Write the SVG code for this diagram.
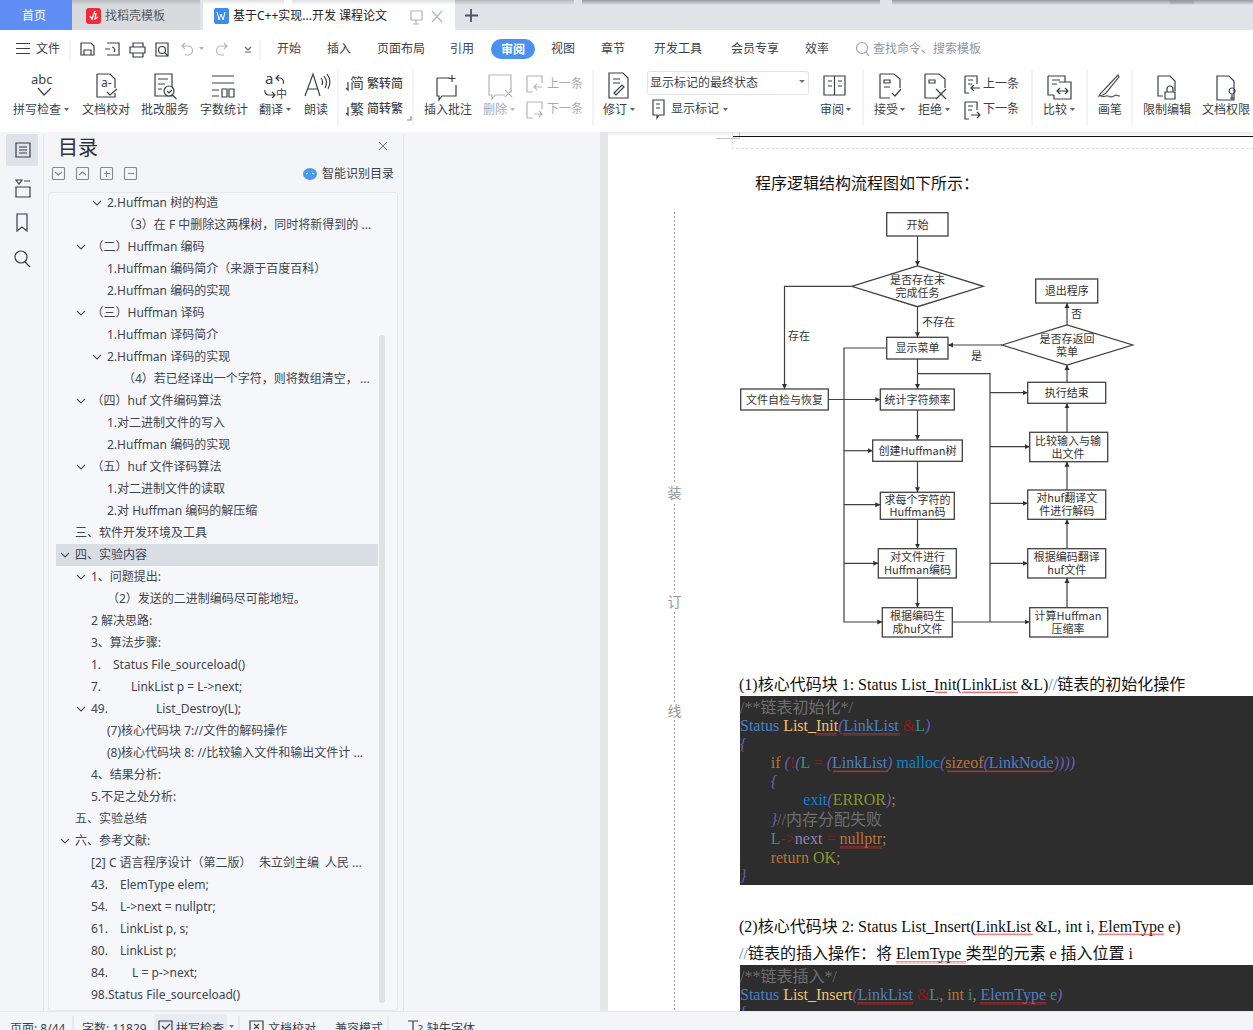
<svg xmlns="http://www.w3.org/2000/svg" width="1253" height="1030" viewBox="0 0 1253 1030">
<style>
text{font-family:"Noto Sans","Noto Sans CJK SC",sans-serif;font-size:12px;fill:#3a3f4b}
.g{fill:#a6abb3}
.ic{fill:none;stroke:#3a3f4b;stroke-width:1.2}
.icg{fill:none;stroke:#b0b4bb;stroke-width:1.2}
.sep{stroke:#e6e8ec;stroke-width:1}
.toc{fill:#3f4450}
.ch{fill:none;stroke:#4a4f5a;stroke-width:1.1}
.nd rect,.nd polygon{fill:#fff;stroke:#404040;stroke-width:1.3}
.nd text,.lb{font-family:"Noto Sans CJK SC","Noto Sans",sans-serif;font-size:11px;fill:#333;text-anchor:middle}
.lb{text-anchor:start}
.cn{fill:none;stroke:#404040;stroke-width:1.2}
.d{font-family:"Liberation Serif","Noto Sans CJK SC",serif;font-size:16px;fill:#111}
.c{font-family:"Liberation Serif","Noto Sans CJK SC",serif;font-size:16px}
.bl{fill:#4d7fc4}.ye{fill:#edc36f}.pu{fill:#6a5fb5;font-style:italic}.re{fill:#8f1a1a}.te{fill:#3f8f86}.cm{fill:#6e6e6e}.or{fill:#b8743a}.sk{fill:#0b84cf}.ol{fill:#8b9530}.li{fill:#9480ad}
.side{font-family:"Noto Sans CJK SC",sans-serif;font-size:14px;fill:#999;text-anchor:middle}
</style>
<defs>
<marker id="ar" markerUnits="userSpaceOnUse" markerWidth="6" markerHeight="6" refX="5" refY="3" orient="auto"><path d="M0 .5L5 3L0 5.500z" fill="#303030"/></marker>
<pattern id="sq" width="4" height="2.400" patternUnits="userSpaceOnUse"><path d="M0 2L1 .5L2 2L3 .5L4 2" fill="none" stroke="#e03030" stroke-width=".7"/></pattern>
<path id="chev" d="M-4 -2L0 2L4 -2" class="ch"/>
<linearGradient id="tg" x1="0" y1="0" x2="0" y2="1"><stop offset="0" stop-color="#96989c"/><stop offset="1" stop-color="#96989c" stop-opacity="0"/></linearGradient>
<linearGradient id="sh" x1="0" y1="0" x2="0" y2="1"><stop offset="0" stop-color="#e8e9eb"/><stop offset="1" stop-color="#fff"/></linearGradient>
</defs>

<rect width="1253" height="1030" fill="#f4f5f8"/>

<g id="tabbar">
<rect width="1253" height="30" fill="#e1e3e8"/>
<rect x="0" width="72" height="30" fill="#5f8ff5"/>
<text x="22" y="20" style="fill:#fff">首页</text>
<rect x="72" width="128" height="30" fill="#d8dade"/>
<rect x="86" y="8" width="15" height="16" rx="3" fill="#ee2b3a"/><path d="M95 11l-3 8l-2-3M96 13l-1 6l3-2" fill="none" stroke="#fff" stroke-width="1.300"/>
<text x="105" y="20" style="fill:#55595f">找稻壳模板</text>
<rect x="203" width="252" height="30" fill="#fff"/>
<rect x="214" y="8" width="15" height="16" rx="2" fill="#3f8dea"/><path d="M217 12l2 8l2-6l2 6l2-8" fill="none" stroke="#fff" stroke-width="1"/>
<text x="233" y="20" style="fill:#222">基于C++实现...开发 课程论文</text>
<path class="icg" d="M411 11h11v9h-11zM416 20v4M413 24h6"/>
<path class="icg" d="M432 11l10 11M442 11l-10 11"/>
<path d="M471 9v13M465 15.500h13" fill="none" stroke="#4a5160" stroke-width="1.800"/>
<rect x="72" width="128" height="5" fill="url(#tg)" opacity=".5"/>
<rect x="203" width="81" height="5" fill="url(#tg)" opacity=".3"/>
<rect x="292" width="163" height="5" fill="url(#tg)" opacity=".3"/>
<rect x="455" width="119" height="5" fill="url(#tg)" opacity=".6"/>
<rect x="582" width="298" height="5" fill="url(#tg)"/>
<rect x="892" width="361" height="5" fill="url(#tg)"/>
<rect x="1170" width="24" height="5" fill="url(#tg)"/>
</g>

<g id="ribbon">
<rect y="30" width="1253" height="102" fill="#fff"/>
<path class="ic" d="M16 43.500h14M16 48.500h14M16 53.500h14"/>
<text x="36" y="53">文件</text>
<line class="sep" x1="70" y1="40" x2="70" y2="60"/><line class="sep" x1="260" y1="40" x2="260" y2="60"/>
<path class="ic" d="M81 43h10l3 3v9h-13zM84 55v-5h7v5"/>
<path class="ic" d="M107 43h12v12h-12M105 49h5M112 47a3 3 0 0 1 2 5"/>
<path class="ic" d="M133 47v-4h10v4M130 47h15v6h-15zM133 53h10v4h-10z"/>
<path class="ic" d="M156 43h12v13h-12z"/><circle class="ic" cx="162" cy="50" r="3.500"/><path class="ic" d="M165 53l3 3"/>
<path class="icg" d="M185 43l-3 3l3 3M182 46h6a4 4 0 0 1 0 9h-3"/><path class="icg" d="M224 43l3 3l-3 3M227 46h-6a4 4 0 0 0 0 9h3"/>
<path d="M199 47h5l-2.500 3z" fill="#b0b4bb"/>
<path class="ic" d="M245 47l3 3l3-3M245 52h6" style="stroke:#666"/>
<text x="277" y="53">开始</text><text x="327" y="53">插入</text><text x="377" y="53">页面布局</text><text x="450" y="53">引用</text>
<rect x="491" y="39" width="44" height="20" rx="10" fill="#4a90f0"/><text x="501" y="54" style="fill:#fff;font-weight:700">审阅</text>
<text x="551" y="53">视图</text><text x="601" y="53">章节</text><text x="654" y="53">开发工具</text><text x="731" y="53">会员专享</text><text x="805" y="53">效率</text>
<circle cx="862" cy="48" r="5.500" fill="none" stroke="#a0a6b0" stroke-width="1.200"/><path d="M866 52l3 4" stroke="#a0a6b0" stroke-width="1.200"/>
<text x="873" y="53" style="fill:#8f96a3">查找命令、搜索模板</text>

<text x="31" y="84" style="font-size:13px">abc</text>
<path class="ic" d="M38 88l6 7l7-7"/>
<text x="13" y="114">拼写检查</text><path d="M64 108h5l-2.500 3z" fill="#666"/>
<path class="ic" d="M97 74h13l5 5v9M115 93v4h-18v-23"/><text x="101" y="87" style="font-size:12px">a-</text><path class="ic" d="M107 92l3 3l7-6"/>
<text x="82" y="114">文档校对</text>
<path class="ic" d="M155 74h17v22h-17zM158 79h10M158 84h7M158 89h4"/><circle cx="169" cy="91" r="5" fill="#fff" stroke="#3a3f4b" stroke-width="1.200"/><path class="ic" d="M172.500 95l4 4M167 91l2 2l3-3"/>
<text x="141" y="114">批改服务</text>
<path class="ic" d="M212 76h22M212 83h22M212 90h7M212 96h7M222 89h5v8h-5zM229 89h5v8h-5z"/>
<text x="200" y="114">字数统计</text>
<text x="265" y="84" style="font-size:15px">a</text><path class="ic" d="M279 75l-3 3l3 3M276 78h4a4 4 0 0 1 3 6M265 90a4 4 0 0 0 3 5h6M272 92l3 3l-3 3"/><text x="276" y="98" style="font-size:11px">中</text>
<text x="259" y="114">翻译</text><path d="M286 108h5l-2.500 3z" fill="#666"/>
<path class="ic" d="M305 96l8-22l7 22M308 89h10M321 78a7 7 0 0 1 1 7M324 76a11 11 0 0 1 1 12M327 74a14 14 0 0 1 1 15"/>
<text x="304" y="114">朗读</text>
<line class="sep" x1="338" y1="70" x2="338" y2="126"/>
<text x="350" y="88" style="font-size:14px">简</text><path class="ic" d="M348 82v8l-2-2M348 90l0 0"/><text x="367" y="88" style="font-weight:500">繁转简</text>
<text x="350" y="114" style="font-size:14px">繁</text><path class="ic" d="M348 107v8l-2-2"/><text x="367" y="113" style="font-weight:500">简转繁</text>
<path class="ic" d="M407 120h4v-4" style="stroke:#888"/>
<line class="sep" x1="413" y1="70" x2="413" y2="126"/>
<path class="ic" d="M437 78h13M456 85v11h-14l-3 4v-4h-2v-18M452 75v7M448.500 78.500h7"/>
<text x="424" y="114">插入批注</text>
<path class="icg" d="M489 75h22v17h-2M505 95h-10l-3 4v-4h-3v-20M505 90l7 7M512 90l-7 7"/>
<text x="483" y="114" class="g">删除</text><path d="M510 108h5l-2.500 3z" fill="#b0b4bb"/>
<path class="icg" d="M527 76h15v7M527 76v16h6M542 87h-8M537 84l-3 3l3 3"/><text x="547" y="88" class="g">上一条</text>
<path class="icg" d="M527 102h15v7M527 102v16h6M534 114h8M539 111l3 3l-3 3"/><text x="547" y="113" class="g">下一条</text>
<line class="sep" x1="593" y1="70" x2="593" y2="126"/>
<path class="ic" d="M609 73h14l5 5v20h-19zM613 79h7M613 83h7M614 93l8-8l2 2l-8 8z"/>
<text x="603" y="114">修订</text><path d="M630 108h5l-2.500 3z" fill="#666"/>
<rect x="647.500" y="71.500" width="161" height="23" rx="2" fill="#fff" stroke="#e2e4e8"/>
<text x="650" y="87">显示标记的最终状态</text><path d="M799 80h6l-3 3z" fill="#777"/>
<path class="ic" d="M653 100h11v15h-5l-2 3v-3h-4zM656 104h4M656 108h4"/><text x="671" y="113">显示标记</text><path d="M723 108h5l-2.500 3z" fill="#666"/>
<path class="ic" d="M824 76h21v19h-21zM834.500 76v19M828 81h4M828 86h4M838 81h4M838 86h4"/>
<text x="820" y="114">审阅</text><path d="M846 108h5l-2.500 3z" fill="#666"/>
<line class="sep" x1="863" y1="70" x2="863" y2="126"/>
<path class="ic" d="M880 74h14l6 5v9M880 74v24h10M884 80h6v3h-6zM884 87h6M892 93l3 3l6-7"/>
<text x="874" y="114">接受</text><path d="M900 108h5l-2.500 3z" fill="#666"/>
<path class="ic" d="M925 74h14l6 5v9M925 74v24h12M929 80h6v3h-6zM936 89l10 10M946 89l-10 10"/>
<text x="918" y="114">拒绝</text><path d="M945 108h5l-2.500 3z" fill="#666"/>
<path class="ic" d="M965 76h12v8M965 76v17h4M968 80h5M968 84h4M980 88h-9M974 85l-3 3l3 3"/><text x="983" y="88">上一条</text>
<path class="ic" d="M965 102h12v8M965 102v17h4M968 106h5M968 110h4M971 115h9M977 112l3 3l-3 3"/><text x="983" y="113">下一条</text>
<line class="sep" x1="1032" y1="70" x2="1032" y2="126"/>
<path class="ic" d="M1048 76h17v6M1048 76v19h6M1059 82h12v17h-17v-4M1052 80h8M1052 84h5M1057 91h11M1060 88l-3 3l3 3M1065 88l3 3l-3 3"/>
<text x="1043" y="114">比较</text><path d="M1070 108h5l-2.500 3z" fill="#666"/>
<line class="sep" x1="1087" y1="70" x2="1087" y2="126"/>
<path class="ic" d="M1118 75l-14 15l-3 3l-2 3l4-1l3-2l13-16zM1101 96c4 2 4-1 7 0s3 2 6 0s3 0 6 0" style="stroke:#555"/>
<text x="1098" y="114">画笔</text>
<line class="sep" x1="1132" y1="70" x2="1132" y2="126"/>
<path class="ic" d="M1158 76h12l5 5v10M1158 76v20h5M1165 92h10v7h-10zM1167 92v-3a3 3 0 0 1 6 0v3"/>
<text x="1143" y="114">限制编辑</text>
<path class="ic" d="M1217 76h12l5 5v19h-17zM1232 88a3 3 0 1 0 .1 0M1232 94v6M1230 98h4"/>
<text x="1202" y="114">文档权限</text>
</g>

<g id="sidebar">
<rect x="43" y="135" width="1" height="876" fill="#e3e5e9"/>
<rect x="6" y="134" width="32" height="32" rx="2" fill="#dfe2e8"/>
<path class="ic" d="M16 143h14v14h-14zM19 147h8M19 150h8M19 153h8"/>
<path class="ic" d="M16 180h6l-3 4zM24 181h6M16 187h14v10h-14z"/>
<path class="ic" d="M17 214h10v17l-5-4l-5 4z"/>
<circle class="ic" cx="21" cy="257" r="6"/><path class="ic" d="M25 262l5 5"/>
</g>

<g id="toc">
<rect x="403" y="135" width="1" height="876" fill="#e3e5e9"/>
<text x="58" y="155" style="font-size:20px;fill:#2c3038">目录</text>
<path d="M379 142l8 8M387 142l-8 8" stroke="#777" fill="none"/>
<g class="ch" style="stroke:#888"><rect x="52.500" y="167.500" width="12" height="12" rx="1"/><path d="M55 172l3.500 3l3.500-3"/><rect x="76.500" y="167.500" width="12" height="12" rx="1"/><path d="M79 175l3.500-3l3.500 3"/><rect x="100.500" y="167.500" width="12" height="12" rx="1"/><path d="M104 173.500h6M106.500 171v6"/><rect x="124.500" y="167.500" width="12" height="12" rx="1"/><path d="M128 173.500h6"/></g>
<ellipse cx="310" cy="174" rx="7" ry="6" fill="#4a9bf0"/><path d="M306 174l2-1M314 174l-2-1" stroke="#fff"/>
<text x="322" y="178">智能识别目录</text>
<rect x="48.500" y="192.500" width="349" height="818" rx="3" fill="#f6f7fa" stroke="#e6e8ec"/>
<rect x="56" y="544" width="322" height="22" fill="#d9dde4"/>
<rect x="379" y="335" width="6" height="668" rx="3" fill="#dfe1e5"/>
<use href="#chev" x="97" y="203"/><use href="#chev" x="81" y="247"/><use href="#chev" x="81" y="313"/><use href="#chev" x="97" y="357"/><use href="#chev" x="81" y="401"/><use href="#chev" x="81" y="467"/><use href="#chev" x="65" y="555"/><use href="#chev" x="81" y="577"/><use href="#chev" x="81" y="709"/><use href="#chev" x="65" y="841"/>
<g class="toc">
<text class="toc" x="107" y="207">2.Huffman 树的构造</text>
<text class="toc" x="123" y="229">（3）在 F 中删除这两棵树，同时将新得到的 ...</text>
<text class="toc" x="91.500" y="251">（二）Huffman 编码</text>
<text class="toc" x="107" y="273">1.Huffman 编码简介（来源于百度百科）</text>
<text class="toc" x="107" y="295">2.Huffman 编码的实现</text>
<text class="toc" x="91.500" y="317">（三）Huffman 译码</text>
<text class="toc" x="107" y="339">1.Huffman 译码简介</text>
<text class="toc" x="107" y="361">2.Huffman 译码的实现</text>
<text class="toc" x="123" y="383">（4）若已经译出一个字符，则将数组清空，</text><text class="toc" x="360" y="383">...</text>
<text class="toc" x="91.500" y="405">（四）huf 文件编码算法</text>
<text class="toc" x="107" y="427">1.对二进制文件的写入</text>
<text class="toc" x="107" y="449">2.Huffman 编码的实现</text>
<text class="toc" x="91.500" y="471">（五）huf 文件译码算法</text>
<text class="toc" x="107" y="493">1.对二进制文件的读取</text>
<text class="toc" x="107" y="515">2.对 Huffman 编码的解压缩</text>
<text class="toc" x="75" y="537">三、软件开发环境及工具</text>
<text class="toc" x="75" y="559">四、实验内容</text>
<text class="toc" x="91" y="581">1、问题提出:</text>
<text class="toc" x="107" y="603">（2）发送的二进制编码尽可能地短。</text>
<text class="toc" x="91" y="625">2 解决思路:</text>
<text class="toc" x="91" y="647">3、算法步骤:</text>
<text class="toc" x="91" y="669">1.</text><text class="toc" x="113" y="669">Status File_sourceload()</text>
<text class="toc" x="91" y="691">7.</text><text class="toc" x="131" y="691">LinkList p = L-&gt;next;</text>
<text class="toc" x="91" y="713">49.</text><text class="toc" x="156" y="713">List_Destroy(L);</text>
<text class="toc" x="107" y="735">(7)核心代码块 7://文件的解码操作</text>
<text class="toc" x="107" y="757">(8)核心代码块 8: //比较输入文件和输出文件计 ...</text>
<text class="toc" x="91" y="779">4、结果分析:</text>
<text class="toc" x="91" y="801">5.不足之处分析:</text>
<text class="toc" x="75" y="823">五、实验总结</text>
<text class="toc" x="75" y="845">六、参考文献:</text>
<text class="toc" x="91" y="867">[2] C 语言程序设计（第二版）</text><text class="toc" x="259" y="867">朱立剑主编</text><text class="toc" x="325" y="867">人民 ...</text>
<text class="toc" x="91" y="889">43.</text><text class="toc" x="120" y="889">ElemType elem;</text>
<text class="toc" x="91" y="911">54.</text><text class="toc" x="120" y="911">L-&gt;next = nullptr;</text>
<text class="toc" x="91" y="933">61.</text><text class="toc" x="120" y="933">LinkList p, s;</text>
<text class="toc" x="91" y="955">80.</text><text class="toc" x="120" y="955">LinkList p;</text>
<text class="toc" x="91" y="977">84.</text><text class="toc" x="132" y="977">L = p-&gt;next;</text>
<text class="toc" x="91" y="999">98.Status File_sourceload()</text>
</g>
</g>

<g id="page">
<rect x="600" y="132" width="8" height="879" fill="#e5e6e8"/>
<rect x="608" y="132" width="645" height="879" fill="#fff"/>
<rect x="608" y="132" width="645" height="4" fill="url(#sh)"/>
<path d="M732.500 132v16.500H1253" fill="none" stroke="#ddd" stroke-dasharray="3 2"/>
<path d="M716 138.500h23.500V132" fill="none" stroke="#c4c4c4"/>
<path d="M733 136.500h520" stroke="#111" stroke-width="1"/>
<line x1="674.500" y1="212" x2="674.500" y2="1011" stroke="#999" stroke-dasharray="2 2"/>
<rect x="666" y="484" width="17" height="18" fill="#fff"/><rect x="666" y="593" width="17" height="18" fill="#fff"/><rect x="666" y="702" width="17" height="18" fill="#fff"/>
<text class="side" x="674.500" y="498">装</text><text class="side" x="674.500" y="607">订</text><text class="side" x="674.500" y="716">线</text>
<text class="d" x="755" y="188.500">程序逻辑结构流程图如下所示：</text>
</g>

<g id="connectors">
<path class="cn" marker-end="url(#ar)" d="M917.500 236V266"/>
<path class="cn" marker-end="url(#ar)" d="M917.500 306.700V337.300"/>
<path class="cn" marker-end="url(#ar)" d="M851.700 286.300H784.500V389"/>
<path class="cn" marker-end="url(#ar)" d="M828.300 399.500H880.300"/>
<path class="cn" marker-end="url(#ar)" d="M917.500 359V389"/>
<path class="cn" marker-end="url(#ar)" d="M917.500 410V440"/>
<path class="cn" marker-end="url(#ar)" d="M917.500 461.300V492.300"/>
<path class="cn" marker-end="url(#ar)" d="M917.500 519.300V548.700"/>
<path class="cn" marker-end="url(#ar)" d="M917.500 578V607.700"/>
<path class="cn" marker-end="url(#ar)" d="M886.700 348H844V622H882.300"/>
<path class="cn" marker-end="url(#ar)" d="M844 450.700H872.700"/>
<path class="cn" marker-end="url(#ar)" d="M844 504.700H880.300"/>
<path class="cn" marker-end="url(#ar)" d="M844 563.300H878.300"/>
<path class="cn" d="M917.500 373.700H990V622"/>
<path class="cn" marker-end="url(#ar)" d="M990 392.700H1027.700"/>
<path class="cn" marker-end="url(#ar)" d="M990 446.700H1029.700"/>
<path class="cn" marker-end="url(#ar)" d="M990 503.300H1027.700"/>
<path class="cn" marker-end="url(#ar)" d="M990 563.300H1027.700"/>
<path class="cn" marker-end="url(#ar)" d="M952.300 622H1029.700"/>
<path class="cn" marker-end="url(#ar)" d="M1067 607.700V578"/>
<path class="cn" marker-end="url(#ar)" d="M1067 548.700V519.300"/>
<path class="cn" marker-end="url(#ar)" d="M1067 490V461.700"/>
<path class="cn" marker-end="url(#ar)" d="M1067 432.300V403.300"/>
<path class="cn" marker-end="url(#ar)" d="M1067 382.300V365"/>
<path class="cn" marker-end="url(#ar)" d="M1067 325V303"/>
<path class="cn" marker-end="url(#ar)" d="M1002 345H948"/>
<text class="lb" x="788" y="340">存在</text>
<text class="lb" x="922" y="326">不存在</text>
<text class="lb" x="971" y="360">是</text>
<text class="lb" x="1071" y="318">否</text>
</g>

<g id="n-start" class="nd"><rect x="886.700" y="212.700" width="61.300" height="23.300"/><text x="917.500" y="228.500">开始</text></g>
<g id="n-task" class="nd"><polygon points="851.700,286.300 917.500,266 983.300,286.300 917.500,306.700"/><text x="917.500" y="284">是否存在未<tspan x="917.500" dy="13">完成任务</tspan></text></g>
<g id="n-exit" class="nd"><rect x="1035.700" y="279" width="62" height="24"/><text x="1066.700" y="295">退出程序</text></g>
<g id="n-back" class="nd"><polygon points="1002,345 1067,325 1132.700,345 1067,365"/><text x="1067" y="343">是否存返回<tspan x="1067" dy="13">菜单</tspan></text></g>
<g id="n-menu" class="nd"><rect x="886.700" y="337.300" width="61.300" height="21.700"/><text x="917.500" y="352">显示菜单</text></g>
<g id="n-check" class="nd"><rect x="740.700" y="389" width="87.600" height="21"/><text x="784.500" y="403.500">文件自检与恢复</text></g>
<g id="n-count" class="nd"><rect x="880.300" y="389" width="74" height="21"/><text x="917.500" y="403.500">统计字符频率</text></g>
<g id="n-done" class="nd"><rect x="1027.700" y="382.300" width="78" height="21"/><text x="1066.700" y="397">执行结束</text></g>
<g id="n-tree" class="nd"><rect x="872.700" y="440" width="89.600" height="21.300"/><text x="917.500" y="454.500">创建Huffman树</text></g>
<g id="n-code" class="nd"><rect x="880.300" y="492.300" width="74" height="27"/><text x="917.500" y="503.500">求每个字符的<tspan x="917.500" dy="12.500">Huffman码</tspan></text></g>
<g id="n-encode" class="nd"><rect x="878.300" y="548.700" width="78" height="29.300"/><text x="917.500" y="561">对文件进行<tspan x="917.500" dy="13">Huffman编码</tspan></text></g>
<g id="n-gen" class="nd"><rect x="882.300" y="607.700" width="70" height="29.300"/><text x="917.500" y="620">根据编码生<tspan x="917.500" dy="13">成huf文件</tspan></text></g>
<g id="n-cmp" class="nd"><rect x="1029.700" y="432.300" width="78" height="29.400"/><text x="1068" y="444.500">比较输入与输<tspan x="1068" dy="13.500">出文件</tspan></text></g>
<g id="n-dec" class="nd"><rect x="1027.700" y="490" width="78" height="29.300"/><text x="1066.700" y="502">对huf翻译文<tspan x="1066.700" dy="13">件进行解码</tspan></text></g>
<g id="n-tran" class="nd"><rect x="1027.700" y="548.700" width="78" height="29.300"/><text x="1066.700" y="561">根据编码翻译<tspan x="1066.700" dy="13">huf文件</tspan></text></g>
<g id="n-rate" class="nd"><rect x="1029.700" y="607.700" width="78" height="29.300"/><text x="1068" y="620">计算Huffman<tspan x="1068" dy="13">压缩率</tspan></text></g>

<g id="code1">
<text class="d" x="739" y="690">(1)核心代码块 1: Status List_Init(LinkList &amp;L)<tspan fill="#4d7fc4">//</tspan>链表的初始化操作</text>
<rect x="935" y="691" width="12" height="2.400" fill="url(#sq)"/><rect x="962" y="691" width="56" height="2.400" fill="url(#sq)"/>
<rect x="740" y="696" width="513" height="189" fill="#2d2d2d"/>
<text class="c cm" x="740" y="713">/**链表初始化*/</text>
<text class="c" x="740" y="731"><tspan class="bl">Status </tspan><tspan class="ye">List_Init</tspan><tspan class="pu">(</tspan><tspan class="bl">LinkList </tspan><tspan class="re">&amp;</tspan><tspan class="te">L</tspan><tspan class="pu">)</tspan></text>
<rect x="815" y="733" width="22" height="2.400" fill="url(#sq)"/><rect x="843" y="733" width="57" height="2.400" fill="url(#sq)"/>
<text class="c pu" x="740" y="750">{</text>
<text class="c" x="770.700" y="768"><tspan class="or">if </tspan><tspan class="pu">(</tspan><tspan class="re">!</tspan><tspan class="pu">(</tspan><tspan class="te">L </tspan><tspan class="re">= </tspan><tspan class="pu">(</tspan><tspan class="bl">LinkList</tspan><tspan class="pu">) </tspan><tspan class="sk">malloc</tspan><tspan class="pu">(</tspan><tspan class="or">sizeof</tspan><tspan class="pu">(</tspan><tspan class="bl">LinkNode</tspan><tspan class="pu">))))</tspan></text>
<rect x="833" y="770" width="55" height="2.400" fill="url(#sq)"/><rect x="947" y="770" width="106" height="2.400" fill="url(#sq)"/>
<text class="c pu" x="770.700" y="787">{</text>
<text class="c" x="803.300" y="805"><tspan class="sk">exit</tspan><tspan class="pu">(</tspan><tspan class="ol">ERROR</tspan><tspan class="pu">)</tspan><tspan class="or">;</tspan></text>
<text class="c" x="770.700" y="825"><tspan class="pu">}</tspan><tspan class="cm">//内存分配失败</tspan></text>
<text class="c" x="770.700" y="844"><tspan class="te">L</tspan><tspan class="re">-&gt;</tspan><tspan class="li">next </tspan><tspan class="re">= </tspan><tspan class="or">nullptr</tspan><tspan class="or">;</tspan></text>
<rect x="840" y="846" width="42" height="2.400" fill="url(#sq)"/>
<text class="c" x="770.700" y="863"><tspan class="or">return </tspan><tspan class="ol">OK</tspan><tspan class="or">;</tspan></text>
<text class="c pu" x="740" y="881">}</text>
</g>

<g id="code2">
<text class="d" x="739" y="932">(2)核心代码块 2: Status List_Insert(LinkList &amp;L, int i, ElemType e)</text>
<rect x="973" y="933" width="60" height="2.400" fill="url(#sq)"/><rect x="1098" y="933" width="66" height="2.400" fill="url(#sq)"/>
<text class="d" x="739" y="959"><tspan fill="#4d7fc4">//</tspan>链表的插入操作：将 ElemType 类型的元素 e 插入位置 i</text>
<rect x="896" y="961" width="70" height="2.400" fill="url(#sq)"/>
<rect x="740" y="965" width="513" height="46" fill="#2d2d2d"/>
<text class="c cm" x="740" y="982">/**链表插入*/</text>
<text class="c" x="740" y="1000"><tspan class="bl">Status </tspan><tspan class="ye">List_Insert</tspan><tspan class="pu">(</tspan><tspan class="bl">LinkList </tspan><tspan class="re">&amp;</tspan><tspan class="te">L</tspan><tspan class="or">, int </tspan><tspan class="te">i</tspan><tspan class="or">, </tspan><tspan class="bl">ElemType </tspan><tspan class="te">e</tspan><tspan class="pu">)</tspan></text>
<rect x="857" y="1002" width="56" height="2.400" fill="url(#sq)"/><rect x="980" y="1002" width="66" height="2.400" fill="url(#sq)"/>
<text class="c pu" x="740" y="1018">{</text>
</g>

<g id="statusbar">
<rect y="1011" width="1253" height="19" fill="#f4f5f8"/>
<rect y="1011" width="1253" height="1" fill="#e6e8ec"/>
<rect x="154" y="1014" width="73" height="16" fill="#e8ebf1"/>
<path class="sep" d="M73 1016v14M239 1016v14M388 1016v14" style="stroke:#d8dade"/>
<text x="10" y="1033">页面: 8/44</text><text x="82" y="1033">字数: 11829</text>
<path class="ic" d="M159 1021h13v12h-13zM162 1026l3 3l5-5"/>
<text x="176" y="1033">拼写检查</text><path d="M229 1025h5l-2.500 3z" fill="#777"/>
<path class="ic" d="M250 1021h13v12h-13zM254 1024l5 5M259 1024l-5 5"/>
<text x="268" y="1033">文档校对</text><text x="335" y="1033">兼容模式</text>
<path class="ic" d="M408 1021h10M413 1021v10"/><text x="418" y="1033" style="font-size:11px">?</text>
<text x="427" y="1033">缺失字体</text>
</g>
</svg>
